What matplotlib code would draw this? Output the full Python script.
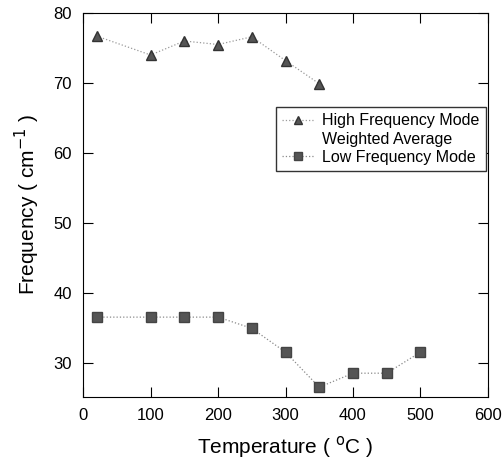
"""Frequency of the two modes against temperature."""

import matplotlib.pyplot as plt
from matplotlib.lines import Line2D

plt.rcParams["font.family"] = ["Liberation Sans", "DejaVu Sans"]

high_temp = [20, 100, 150, 200, 250, 300, 350]
high_freq = [76.7, 74.0, 76.0, 75.5, 76.6, 73.2, 69.9]

low_temp = [20, 100, 150, 200, 250, 300, 350, 400, 450, 500]
low_freq = [36.6, 36.6, 36.6, 36.6, 35.0, 31.6, 26.6, 28.6, 28.6, 31.6]

labels = ["High Frequency Mode", "Weighted Average", "Low Frequency Mode"]


def render() -> None:
    fig = plt.figure(figsize=(5.04, 4.63), dpi=100)
    ax = fig.add_axes([0.165, 0.1425, 0.803, 0.8295])
    ax.plot(high_temp, high_freq, ls=":", lw=0.9, color="#9a9a9a",
            marker="^", ms=6.5, mfc="#555555", mec="#333333")
    ax.plot(low_temp, low_freq, ls=":", lw=0.9, color="#8a8a8a",
            marker="s", ms=6.5, mfc="#555555", mec="#444444")
    ax.set_xlim(0, 600)
    ax.set_ylim(25.2, 80)
    ax.set_xticks(range(0, 601, 100))
    ax.set_yticks(range(30, 81, 10))
    ax.tick_params(direction="in", top=True, right=True, length=7,
                   labelsize=12, width=0.8, pad=8)
    for s in ax.spines.values():
        s.set_linewidth(0.8)
    ax.set_xlabel("Temperature ( $^{\\mathrm{o}}$C )", fontsize=15, labelpad=8)
    ax.set_ylabel("Frequency ( cm$^{\\mathrm{-1}}$ )", fontsize=15, labelpad=8)

    handles = [
        Line2D([], [], ls=":", lw=0.9, color="#9a9a9a", marker="^", ms=6,
               mfc="#555555", mec="#333333"),
        Line2D([], [], ls="none"),
        Line2D([], [], ls=":", lw=0.9, color="#8a8a8a", marker="s", ms=6,
               mfc="#555555", mec="#444444"),
    ]
    ax.legend(handles, labels, loc="upper right", bbox_to_anchor=(0.995, 0.755),
              fontsize=11.5, frameon=True, fancybox=False, edgecolor="#333333",
              framealpha=1, handlelength=2.0, borderpad=0.4, labelspacing=0.2,
              handletextpad=0.5, borderaxespad=0)
    fig.savefig("out.png", dpi=100)
    plt.close(fig)


if __name__ == "__main__":
    render()
